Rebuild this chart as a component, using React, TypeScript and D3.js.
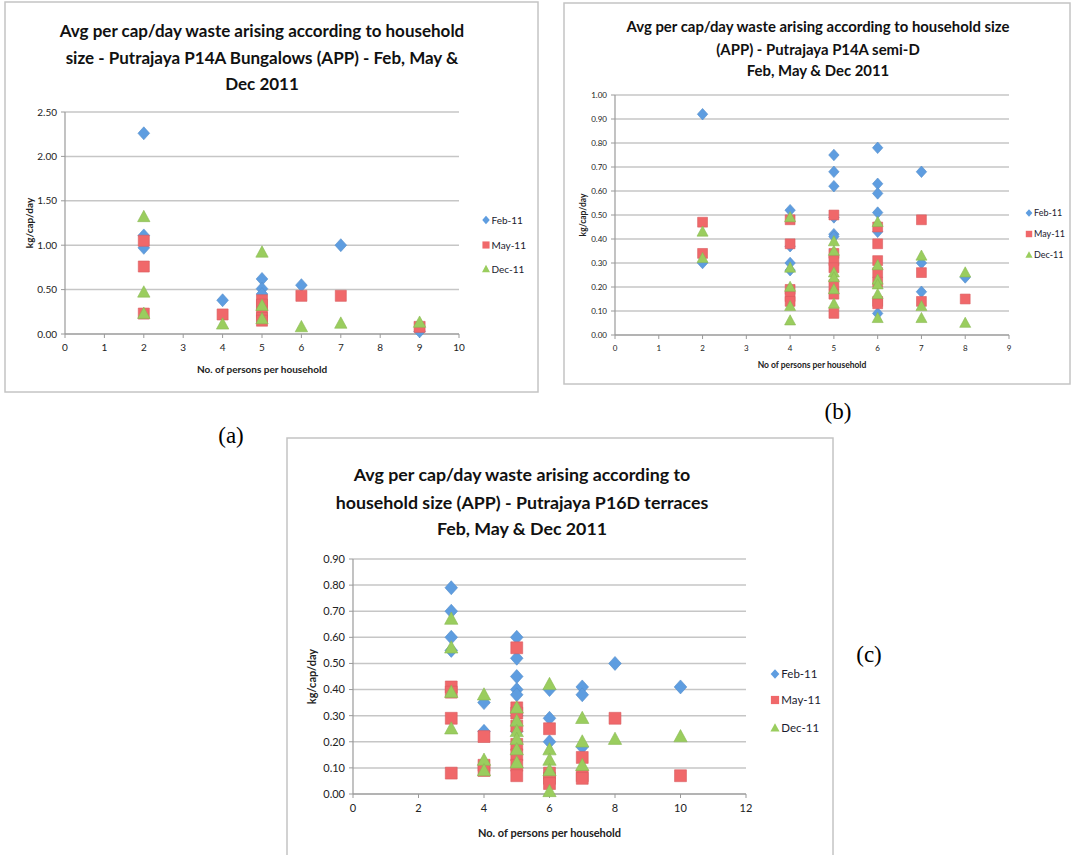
import * as d3 from "d3";
import React from "react";

// series labels
const seriesNames = ["Feb-11", "May-11", "Dec-11"];
const seriesColors = ["#5e9de0", "#f0686a", "#9acd5e"];

// (a) P14A Bungalows: [persons, kg/cap/day]
const bungalowFeb = [[2, 2.26], [2, 1.11], [2, 0.97], [4, 0.38], [5, 0.62], [5, 0.51], [5, 0.45], [6, 0.55], [7, 1.0], [9, 0.03]];
const bungalowMay = [[2, 1.05], [2, 0.76], [2, 0.23], [4, 0.22], [5, 0.38], [5, 0.33], [5, 0.25], [5, 0.18], [5, 0.15], [6, 0.43], [7, 0.43], [9, 0.08]];
const bungalowDec = [[2, 1.32], [2, 0.47], [2, 0.23], [4, 0.11], [5, 0.92], [5, 0.32], [5, 0.17], [6, 0.08], [7, 0.12], [9, 0.13]];

// (b) P14A semi-D
const semiDFeb = [[2, 0.92], [2, 0.3], [4, 0.52], [4, 0.37], [4, 0.3], [4, 0.27], [5, 0.75], [5, 0.68], [5, 0.62], [5, 0.49], [5, 0.42], [5, 0.41], [6, 0.78], [6, 0.63], [6, 0.59], [6, 0.51], [6, 0.43], [6, 0.09], [7, 0.68], [7, 0.3], [7, 0.18], [8, 0.24]];
const semiDMay = [[2, 0.47], [2, 0.34], [4, 0.48], [4, 0.38], [4, 0.19], [4, 0.16], [4, 0.14], [5, 0.5], [5, 0.34], [5, 0.31], [5, 0.28], [5, 0.21], [5, 0.17], [5, 0.09], [6, 0.45], [6, 0.38], [6, 0.31], [6, 0.26], [6, 0.22], [6, 0.14], [6, 0.13], [7, 0.48], [7, 0.26], [7, 0.14], [8, 0.15]];
const semiDDec = [[2, 0.43], [2, 0.32], [4, 0.49], [4, 0.28], [4, 0.2], [4, 0.12], [4, 0.06], [5, 0.39], [5, 0.35], [5, 0.26], [5, 0.24], [5, 0.19], [5, 0.13], [6, 0.47], [6, 0.29], [6, 0.23], [6, 0.21], [6, 0.17], [6, 0.07], [7, 0.33], [7, 0.12], [7, 0.07], [8, 0.26], [8, 0.05]];

// (c) P16D terraces
const terraceFeb = [[3, 0.79], [3, 0.7], [3, 0.6], [3, 0.55], [4, 0.35], [4, 0.24], [5, 0.6], [5, 0.52], [5, 0.45], [5, 0.4], [5, 0.38], [5, 0.3], [5, 0.24], [6, 0.4], [6, 0.29], [6, 0.2], [7, 0.41], [7, 0.38], [7, 0.18], [8, 0.5], [10, 0.41]];
const terraceMay = [[3, 0.41], [3, 0.39], [3, 0.29], [3, 0.08], [4, 0.22], [4, 0.11], [4, 0.09], [5, 0.56], [5, 0.33], [5, 0.31], [5, 0.26], [5, 0.19], [5, 0.15], [5, 0.11], [5, 0.07], [6, 0.25], [6, 0.08], [6, 0.06], [6, 0.04], [7, 0.14], [7, 0.07], [7, 0.06], [8, 0.29], [10, 0.07]];
const terraceDec = [[3, 0.67], [3, 0.56], [3, 0.39], [3, 0.25], [4, 0.38], [4, 0.13], [4, 0.09], [5, 0.33], [5, 0.28], [5, 0.24], [5, 0.21], [5, 0.17], [5, 0.12], [6, 0.42], [6, 0.17], [6, 0.13], [6, 0.09], [6, 0.01], [7, 0.29], [7, 0.2], [7, 0.11], [8, 0.21], [10, 0.22]];

const titleA = ["Avg per cap/day waste arising according to household", "size - Putrajaya P14A Bungalows (APP) - Feb, May &", "Dec 2011"];
const titleB = ["Avg per cap/day waste arising according to household size", "(APP) - Putrajaya P14A semi-D", "Feb, May & Dec 2011"];
const titleC = ["Avg per cap/day waste arising according to", "household size (APP) - Putrajaya P16D terraces", "Feb, May & Dec 2011"];

const FONT = "Lato, 'Open Sans', sans-serif";

function marker(kind: number, r: number) {
  if (kind === 0) return `M0,${-r}L${r * 0.9},0L0,${r}L${-r * 0.9},0Z`;
  if (kind === 1) { const s = r * 0.85; return `M${-s},${-s}H${s}V${s}H${-s}Z`; }
  const h = r * 1.0;
  return `M0,${-h}L${h * 0.95},${h * 0.75}H${-h * 0.95}Z`;
}

type PanelProps = {
  frame: [number, number, number, number];
  plot: { x0: number; x1: number; y0: number; y1: number };
  xMax: number; xStep: number; yMax: number; yStep: number;
  title: string[]; titleY: number[]; titleX: number; titleSize: number;
  tickSize: number; axisSize: number; xTitle: string; xTitleY: number; yTitleX: number;
  legendX: number; legendY: number[]; legendSize: number;
  series: number[][][]; r: number;
};

function Panel(p: PanelProps) {
  const x = d3.scaleLinear().domain([0, p.xMax]).range([p.plot.x0, p.plot.x1]);
  const y = d3.scaleLinear().domain([0, p.yMax]).range([p.plot.y0, p.plot.y1]);
  const xTicks = d3.range(0, p.xMax + 1e-9, p.xStep);
  const yTicks = d3.range(0, p.yMax + 1e-9, p.yStep);
  const fmt = d3.format(".2f");
  const [fx, fy, fw, fh] = p.frame;
  return (
    <g fontFamily={FONT}>
      <rect x={fx} y={fy} width={fw} height={fh} fill="#fff" stroke="#c4c4c4" strokeWidth={1.5} />
      {p.title.map((t, i) => (
        <text key={i} x={p.titleX} y={p.titleY[i]} textAnchor="middle" fontWeight="bold" fontSize={p.titleSize} fill="#111">{t}</text>
      ))}
      {yTicks.map((v, i) => (
        <g key={i}>
          <line x1={x(0)} x2={x(p.xMax)} y1={y(v)} y2={y(v)} stroke={i === 0 ? "#9a9a9a" : "#c6c6c6"} strokeWidth={1.5} />
          <line x1={x(0) - 4} x2={x(0)} y1={y(v)} y2={y(v)} stroke="#9a9a9a" />
          <text x={x(0) - 8} y={y(v)} dy="0.35em" textAnchor="end" fontSize={p.tickSize} fill="#222">{fmt(v)}</text>
        </g>
      ))}
      <line x1={x(0)} x2={x(0)} y1={y(0)} y2={y(p.yMax)} stroke="#9a9a9a" strokeWidth={1.2} />
      {xTicks.map((v, i) => (
        <g key={i}>
          <line x1={x(v)} x2={x(v)} y1={y(0)} y2={y(0) + 4} stroke="#9a9a9a" />
          <text x={x(v)} y={y(0) + 10} dy="0.71em" textAnchor="middle" fontSize={p.tickSize} fill="#222">{v}</text>
        </g>
      ))}
      <text x={(x(0) + x(p.xMax)) / 2} y={p.xTitleY} dy="0.35em" textAnchor="middle" fontWeight="bold" fontSize={p.axisSize} fill="#222">{p.xTitle}</text>
      <text transform={`translate(${p.yTitleX},${(y(0) + y(p.yMax)) / 2}) rotate(-90)`} dy="0.35em" textAnchor="middle" fontWeight="bold" fontSize={p.axisSize} fill="#222">kg/cap/day</text>
      {p.series.map((pts, k) => (
        <g key={k}>
          {pts.map((d, i) => (
            <path key={i} d={marker(k, p.r)} transform={`translate(${x(d[0])},${y(d[1])})`} fill={seriesColors[k]} stroke={d3.color(seriesColors[k])!.darker(0.3).toString()} strokeWidth={0.6} />
          ))}
        </g>
      ))}
      {seriesNames.map((n, k) => (
        <g key={k} transform={`translate(${p.legendX},${p.legendY[k]})`}>
          <path d={marker(k, p.legendSize * 0.42)} fill={seriesColors[k]} />
          <text x={p.legendSize * 0.55} dy="0.35em" fontSize={p.legendSize} fill="#1a1a2e">{n}</text>
        </g>
      ))}
    </g>
  );
}

export default function App() {
  return (
    <svg width={1072} height={855} style={{ position: "absolute", left: 0, top: 0, background: "#fff" }}>
      <Panel frame={[5, 2, 533, 390]} plot={{ x0: 65, x1: 459, y0: 334, y1: 112 }}
        xMax={10} xStep={1} yMax={2.5} yStep={0.5}
        title={titleA} titleY={[37, 64, 90]} titleX={262} titleSize={17}
        tickSize={10} axisSize={10} xTitle="No. of persons per household" xTitleY={369} yTitleX={29}
        legendX={486} legendY={[220, 245, 269]} legendSize={10}
        series={[bungalowFeb, bungalowMay, bungalowDec]} r={6.5} />
      <Panel frame={[564, 3, 506, 381]} plot={{ x0: 615, x1: 1009, y0: 335, y1: 95 }}
        xMax={9} xStep={1} yMax={1} yStep={0.1}
        title={titleB} titleY={[32, 55, 76]} titleX={818} titleSize={14.9}
        tickSize={8} axisSize={8.5} xTitle="No of persons per household" xTitleY={365} yTitleX={583}
        legendX={1029} legendY={[213, 234, 255]} legendSize={9}
        series={[semiDFeb, semiDMay, semiDDec]} r={5.8} />
      <Panel frame={[287, 438, 546, 425]} plot={{ x0: 353, x1: 746, y0: 794, y1: 559 }}
        xMax={12} xStep={2} yMax={0.9} yStep={0.1}
        title={titleC} titleY={[481, 509, 535]} titleX={522} titleSize={17.8}
        tickSize={11} axisSize={11} xTitle="No. of persons per household" xTitleY={833} yTitleX={312}
        legendX={775} legendY={[674, 700, 728]} legendSize={11.5}
        series={[terraceFeb, terraceMay, terraceDec]} r={7} />
      <g fontFamily="'Liberation Serif', 'Times New Roman', serif" fontSize={23} fill="#000" textAnchor="middle">
        <text x={231} y={443}>(a)</text>
        <text x={838} y={419}>(b)</text>
        <text x={869} y={662}>(c)</text>
      </g>
    </svg>
  );
}
